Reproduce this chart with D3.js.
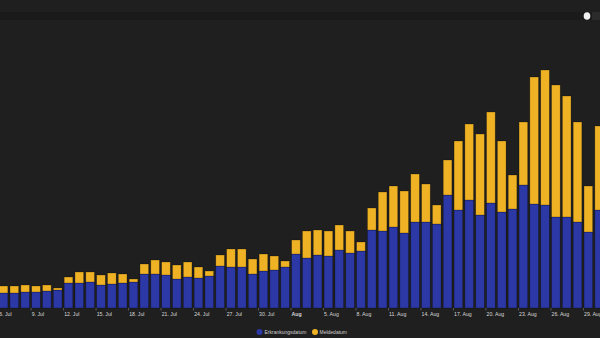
<!DOCTYPE html>
<html>
<head>
<meta charset="utf-8">
<script src="https://cdn.jsdelivr.net/npm/d3@7"></script>
<style>
  html, body { margin: 0; padding: 0; background: #1f1f1f; overflow: hidden; }
  svg { display: block; font-family: "Liberation Sans", Arial, sans-serif; }
</style>
</head>
<body>
<svg id="chart" width="600" height="338"></svg>
<script>
// ---- data ----
const dates = [
  "2020-07-06","2020-07-07","2020-07-08","2020-07-09","2020-07-10","2020-07-11","2020-07-12",
  "2020-07-13","2020-07-14","2020-07-15","2020-07-16","2020-07-17","2020-07-18","2020-07-19",
  "2020-07-20","2020-07-21","2020-07-22","2020-07-23","2020-07-24","2020-07-25","2020-07-26",
  "2020-07-27","2020-07-28","2020-07-29","2020-07-30","2020-07-31","2020-08-01","2020-08-02",
  "2020-08-03","2020-08-04","2020-08-05","2020-08-06","2020-08-07","2020-08-08","2020-08-09",
  "2020-08-10","2020-08-11","2020-08-12","2020-08-13","2020-08-14","2020-08-15","2020-08-16",
  "2020-08-17","2020-08-18","2020-08-19","2020-08-20","2020-08-21","2020-08-22","2020-08-23",
  "2020-08-24","2020-08-25","2020-08-26","2020-08-27","2020-08-28","2020-08-29","2020-08-30"
];
const erkrankungsdatum = [
  15,15,16,16,17,18,25,25,26,23,24,25,26,34,
  34,33,29,31,30,32,42,41,41,34,37,38,41,54,
  50,53,52,58,55,57,78,77,81,75,86,86,84,113,
  98,108,93,105,96,99,123,104,103,91,91,86,76,98
];
const meldedatum = [
  7,7,7,6,6,2,6,11,10,10,11,9,3,10,
  14,13,14,15,11,5,11,18,18,15,17,14,6,14,
  27,25,25,25,22,9,22,39,41,42,48,38,19,35,
  69,76,81,91,71,34,63,127,135,132,121,100,46,84
];
const tickDates = [
  "2020-07-06","2020-07-09","2020-07-12","2020-07-15","2020-07-18","2020-07-21","2020-07-24",
  "2020-07-27","2020-07-30","2020-08-02","2020-08-05","2020-08-08","2020-08-11","2020-08-14",
  "2020-08-17","2020-08-20","2020-08-23","2020-08-26","2020-08-29"
];
const tickLabels = [
  "6. Jul","9. Jul","12. Jul","15. Jul","18. Jul","21. Jul","24. Jul",
  "27. Jul","30. Jul","Aug","5. Aug","8. Aug","11. Aug","14. Aug",
  "17. Aug","20. Aug","23. Aug","26. Aug","29. Aug"
];
const seriesNames = ["Erkrankungsdatum", "Meldedatum"];
const seriesColors = ["#2b38a6", "#efb224"];

// ---- build ----
const svg = d3.select("#chart");
const W = 600, H = 338;
svg.append("rect").attr("width", W).attr("height", H).attr("fill", "#1f1f1f");

// scrollbar band at top
svg.append("rect").attr("x", 0).attr("y", 12).attr("width", W).attr("height", 8).attr("fill", "#1a1a1a");
svg.append("rect").attr("x", 592).attr("y", 12).attr("width", 8).attr("height", 8).attr("fill", "#2b2b2b");
svg.append("ellipse").attr("cx", 587).attr("cy", 16).attr("rx", 3.3).attr("ry", 3.8).attr("fill", "#f2f2f2");

const parse = d3.utcParse("%Y-%m-%d");
const rows = dates.map((d, i) => ({
  date: parse(d),
  values: [erkrankungsdatum[i], meldedatum[i]]
}));

const startDate = parse(dates[0]);
const endDate = d3.utcDay.offset(parse(dates[dates.length - 1]), 1);
const x = d3.scaleUtc().domain([startDate, endDate]).range([-1.9, 604.6]);
const y = d3.scaleLinear().domain([0, 250]).range([308, 58]);

const stack = d3.stack().keys([0, 1]).value((d, k) => d.values[k]);
const stacked = stack(rows);

const inset = 1.08;
const g = svg.append("g");
stacked.forEach((layer, si) => {
  g.selectAll(null).data(layer).enter().append("rect")
    .attr("x", d => x(d.data.date) + inset)
    .attr("width", d => x(d3.utcDay.offset(d.data.date, 1)) - x(d.data.date) - 2 * inset)
    .attr("y", d => y(d[1]))
    .attr("height", d => y(d[0]) - y(d[1]))
    .attr("fill", seriesColors[si])
    .attr("stroke", "rgba(0,0,0,0.35)")
    .attr("stroke-width", 0.7);
});

// x axis
const tickDateObjs = tickDates.map(parse);
const axis = d3.axisBottom(x)
  .tickValues(tickDateObjs)
  .tickSize(2.5)
  .tickFormat((d, i) => tickLabels[i]);
const ax = svg.append("g").attr("transform", "translate(0,308)").call(axis);
ax.select(".domain").remove();
ax.selectAll(".tick line").attr("stroke", "#5a5a5a");
ax.selectAll(".tick text")
  .attr("fill", "#d8d8d8")
  .attr("font-size", 5.2)
  .attr("font-family", "Liberation Sans, Arial, sans-serif")
  .attr("text-anchor", "start")
  .attr("dx", 0.6)
  .attr("y", 8)
  .attr("dy", 0)
  .attr("font-weight", (d, i) => tickLabels[i] === "Aug" ? "bold" : "normal");

// legend
const legendItems = [
  { name: seriesNames[0], color: seriesColors[0], cx: 259.5, tx: 264.5 },
  { name: seriesNames[1], color: seriesColors[1], cx: 315, tx: 319.5 }
];
const lg = svg.append("g");
legendItems.forEach(it => {
  lg.append("circle").attr("cx", it.cx).attr("cy", 332).attr("r", 3).attr("fill", it.color);
  lg.append("text").attr("x", it.tx).attr("y", 333.8)
    .attr("fill", "#d0d0d0").attr("font-size", 5)
    .text(it.name);
});
</script>
</body>
</html>
